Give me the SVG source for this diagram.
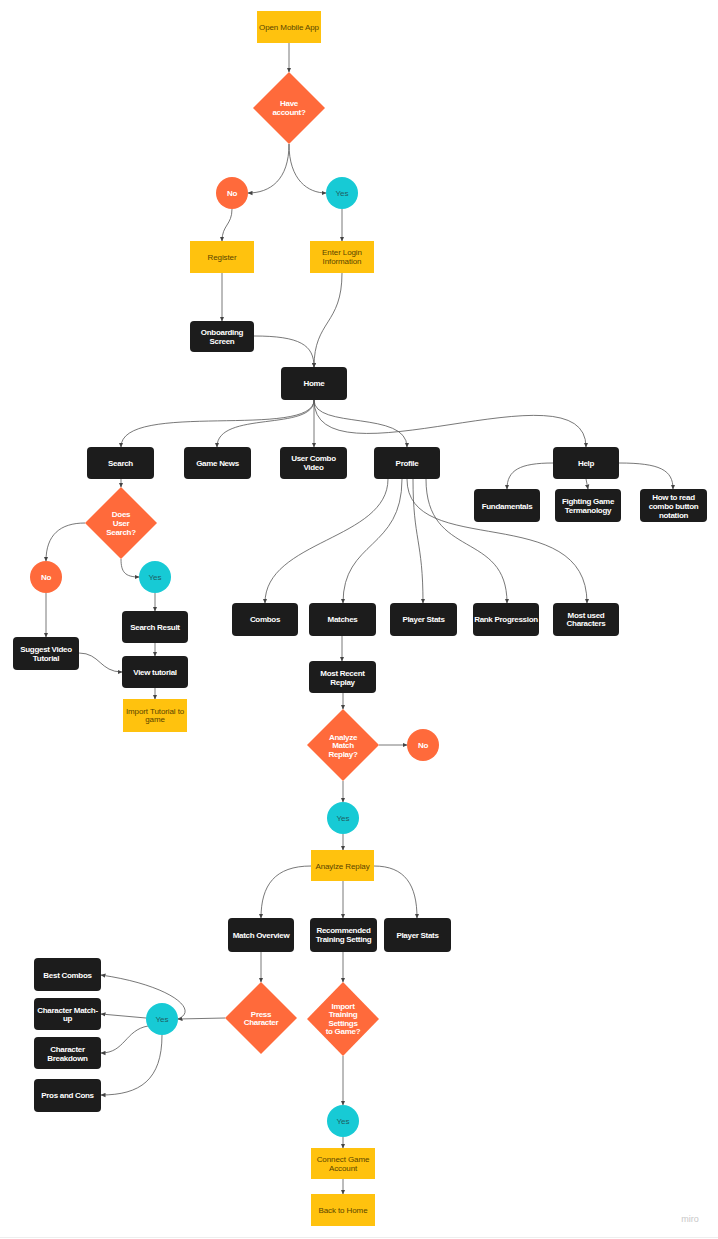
<svg xmlns="http://www.w3.org/2000/svg" width="718" height="1239" viewBox="0 0 718 1239">
<defs>
<marker id="arr" markerUnits="userSpaceOnUse" markerWidth="5" markerHeight="5" refX="4.5" refY="2.5" orient="auto">
<path d="M0,0.3 L5,2.5 L0,4.7 z" fill="#444"/>
</marker>
<style>
.y{fill:#FFC20E}
.o{fill:#FF6A3B}
.c{fill:#17CAD5}
.k{fill:#1C1C1C}
text{font-family:"Liberation Sans",Arial,sans-serif;font-size:8px;text-anchor:middle}
.tk{fill:#FFFFFF;font-weight:bold;letter-spacing:-0.3px}
.to{fill:#FFFFFF;font-weight:bold;letter-spacing:-0.3px}
.ty{fill:#5A4500;letter-spacing:-0.1px}
.tc{fill:#1F5E63;letter-spacing:-0.1px}
#connectors path{fill:none;stroke:#555;stroke-width:0.8;marker-end:url(#arr)}
</style>
</defs>
<rect x="0" y="0" width="718" height="1239" fill="#FFFFFF"/>
<line x1="0" y1="1237.5" x2="718" y2="1237.5" stroke="#EEEEEE" stroke-width="1"/>
<text x="690" y="1222" style="fill:#C8C8C8;font-size:9px">miro</text>

<g id="connectors">
<path d="M289 43 L289 72"/>
<path d="M289 144 C289 180 270 193 248 193"/>
<path d="M289 144 C289 180 308 193 326 193"/>
<path d="M232 209 C232 225 222 225 222 241"/>
<path d="M342 209 L342 241"/>
<path d="M222 273 L222 321"/>
<path d="M342 273 C342 325 314 320 314 367"/>
<path d="M254 336 C300 336 314 345 314 367"/>
<path d="M314 400 C314 440 121 400 121 447"/>
<path d="M314 400 C314 432 217 410 217 447"/>
<path d="M314 400 L314 447"/>
<path d="M314 400 C314 430 407 410 407 447"/>
<path d="M314 400 C314 490 586 360 586 447"/>
<path d="M553 463 C520 463 507 470 507 489"/>
<path d="M586 479 L588 489"/>
<path d="M619 463 C660 463 673 470 673 489"/>
<path d="M388 479 C388 540 265 540 265 603"/>
<path d="M402 479 C402 550 343 540 343 603"/>
<path d="M413 479 C413 540 423 540 423 603"/>
<path d="M426 479 C426 560 507 530 507 603"/>
<path d="M407 479 C407 560 587 500 587 603"/>
<path d="M121 479 L121 487"/>
<path d="M85 523 C60 523 46 535 46 561"/>
<path d="M121 559 C121 572 125 577 139 577"/>
<path d="M46 593 L46 637"/>
<path d="M155 593 L155 611"/>
<path d="M155 643 L155 656"/>
<path d="M79 653 C100 653 100 672 122 672"/>
<path d="M155 688 L155 699"/>
<path d="M342 636 L342 661"/>
<path d="M343 693 L343 709"/>
<path d="M379 745 L407 745"/>
<path d="M343 781 L343 802"/>
<path d="M343 834 L343 850"/>
<path d="M311 866 C275 866 261 885 261 918"/>
<path d="M343 881 L343 918"/>
<path d="M374 866 C405 866 417 885 417 918"/>
<path d="M261 952 L261 982"/>
<path d="M343 952 L343 982"/>
<path d="M225 1018 L178 1019"/>
<path d="M178 1019 C200 1010 170 985 101 975"/>
<path d="M146 1018 L101 1014"/>
<path d="M148 1026 C125 1030 125 1053 101 1053"/>
<path d="M162 1035 C162 1080 140 1095 101 1095"/>
<path d="M343 1056 L343 1105"/>
<path d="M343 1137 L343 1148"/>
<path d="M343 1179 L343 1194"/>
</g>

<g id="open-app"><rect class="y" x="257" y="11" width="64" height="32"/><text class="ty" x="289" y="30">Open Mobile App</text></g>
<g id="have-account"><polygon class="o" points="289,72 325,108 289,144 253,108"/><text class="to" x="289" y="106">Have</text><text class="to" x="289" y="115">account?</text></g>
<g id="no-1"><circle class="o" cx="232" cy="193" r="16"/><text class="to" x="232" y="196">No</text></g>
<g id="yes-1"><circle class="c" cx="342" cy="193" r="16"/><text class="tc" x="342" y="196">Yes</text></g>
<g id="register"><rect class="y" x="190" y="241" width="64" height="32"/><text class="ty" x="222" y="260">Register</text></g>
<g id="enter-login"><rect class="y" x="310" y="241" width="64" height="32"/><text class="ty" x="342" y="255">Enter Login</text><text class="ty" x="342" y="264">Information</text></g>
<g id="onboarding"><rect class="k" x="190" y="321" width="64" height="31" rx="4"/><text class="tk" x="222" y="335">Onboarding</text><text class="tk" x="222" y="344">Screen</text></g>
<g id="home"><rect class="k" x="281" y="367" width="66" height="33" rx="4"/><text class="tk" x="314" y="386">Home</text></g>

<g id="search"><rect class="k" x="87" y="447" width="67" height="32" rx="4"/><text class="tk" x="120.5" y="466">Search</text></g>
<g id="game-news"><rect class="k" x="184" y="447" width="67" height="32" rx="4"/><text class="tk" x="217.5" y="466">Game News</text></g>
<g id="user-combo-video"><rect class="k" x="280" y="447" width="67" height="32" rx="4"/><text class="tk" x="313.5" y="461">User Combo</text><text class="tk" x="313.5" y="470">Video</text></g>
<g id="profile"><rect class="k" x="374" y="447" width="66" height="32" rx="4"/><text class="tk" x="407" y="466">Profile</text></g>
<g id="help"><rect class="k" x="553" y="447" width="66" height="32" rx="4"/><text class="tk" x="586" y="466">Help</text></g>
<g id="fundamentals"><rect class="k" x="474" y="489" width="66" height="33" rx="4"/><text class="tk" x="507" y="508.5">Fundamentals</text></g>
<g id="fighting-game"><rect class="k" x="555" y="489" width="66" height="33" rx="4"/><text class="tk" x="588" y="504">Fighting Game</text><text class="tk" x="588" y="513">Termanology</text></g>
<g id="how-to-read"><rect class="k" x="640" y="489" width="67" height="33" rx="4"/><text class="tk" x="673.5" y="500">How to read</text><text class="tk" x="673.5" y="509">combo button</text><text class="tk" x="673.5" y="517.5">notation</text></g>

<g id="does-user-search"><polygon class="o" points="121,487 157,523 121,559 85,523"/><text class="to" x="121" y="517">Does</text><text class="to" x="121" y="526">User</text><text class="to" x="121" y="535">Search?</text></g>
<g id="no-2"><circle class="o" cx="46" cy="577" r="16"/><text class="to" x="46" y="580">No</text></g>
<g id="yes-2"><circle class="c" cx="155" cy="577" r="16"/><text class="tc" x="155" y="580">Yes</text></g>
<g id="search-result"><rect class="k" x="122" y="611" width="66" height="32" rx="4"/><text class="tk" x="155" y="630">Search Result</text></g>
<g id="suggest-video"><rect class="k" x="13" y="637" width="66" height="33" rx="4"/><text class="tk" x="46" y="652">Suggest Video</text><text class="tk" x="46" y="660.7">Tutorial</text></g>
<g id="view-tutorial"><rect class="k" x="122" y="656" width="66" height="32" rx="4"/><text class="tk" x="155" y="675">View tutorial</text></g>
<g id="import-tutorial"><rect class="y" x="123" y="699" width="64" height="33"/><text class="ty" x="155" y="714">Import Tutorial to</text><text class="ty" x="155" y="722.3">game</text></g>

<g id="combos"><rect class="k" x="232" y="603" width="66" height="33" rx="4"/><text class="tk" x="265" y="622">Combos</text></g>
<g id="matches"><rect class="k" x="309" y="603" width="67" height="33" rx="4"/><text class="tk" x="342.5" y="622">Matches</text></g>
<g id="player-stats-1"><rect class="k" x="390" y="603" width="67" height="33" rx="4"/><text class="tk" x="423.5" y="622">Player Stats</text></g>
<g id="rank-progression"><rect class="k" x="473" y="603" width="66" height="33" rx="4"/><text class="tk" x="506" y="622">Rank Progression</text></g>
<g id="most-used"><rect class="k" x="553" y="603" width="66" height="33" rx="4"/><text class="tk" x="586" y="618">Most used</text><text class="tk" x="586" y="626.3">Characters</text></g>

<g id="most-recent-replay"><rect class="k" x="309" y="661" width="67" height="32" rx="4"/><text class="tk" x="342.5" y="676.3">Most Recent</text><text class="tk" x="342.5" y="684.7">Replay</text></g>
<g id="analyze-match"><polygon class="o" points="343,709 379,745 343,781 307,745"/><text class="to" x="343" y="740.3">Analyze</text><text class="to" x="343" y="748.3">Match</text><text class="to" x="343" y="757">Replay?</text></g>
<g id="no-3"><circle class="o" cx="423" cy="745" r="16"/><text class="to" x="423" y="748">No</text></g>
<g id="yes-3"><circle class="c" cx="343" cy="818" r="16"/><text class="tc" x="343" y="821">Yes</text></g>
<g id="anaylze-replay"><rect class="y" x="311" y="850" width="63" height="31"/><text class="ty" x="342.5" y="869">Anaylze Replay</text></g>

<g id="match-overview"><rect class="k" x="228" y="918" width="66" height="34" rx="4"/><text class="tk" x="261" y="938">Match Overview</text></g>
<g id="recommended-training"><rect class="k" x="310" y="918" width="67" height="34" rx="4"/><text class="tk" x="343.5" y="933">Recommended</text><text class="tk" x="343.5" y="942">Training Setting</text></g>
<g id="player-stats-2"><rect class="k" x="384" y="918" width="67" height="34" rx="4"/><text class="tk" x="417.5" y="938">Player Stats</text></g>

<g id="press-character"><polygon class="o" points="261,982 297,1018 261,1054 225,1018"/><text class="to" x="261" y="1017">Press</text><text class="to" x="261" y="1025">Character</text></g>
<g id="import-training"><polygon class="o" points="343,982 379,1019 343,1056 307,1019"/><text class="to" x="343" y="1008.5">Import</text><text class="to" x="343" y="1017">Training</text><text class="to" x="343" y="1025.5">Settings</text><text class="to" x="343" y="1034">to Game?</text></g>
<g id="yes-4"><circle class="c" cx="162" cy="1019" r="16"/><text class="tc" x="162" y="1022">Yes</text></g>
<g id="best-combos"><rect class="k" x="34" y="958" width="67" height="33" rx="4"/><text class="tk" x="67.5" y="978">Best Combos</text></g>
<g id="character-matchup"><rect class="k" x="34" y="998" width="67" height="32" rx="4"/><text class="tk" x="67.5" y="1013">Character Match-</text><text class="tk" x="67.5" y="1021.3">up</text></g>
<g id="character-breakdown"><rect class="k" x="34" y="1037" width="67" height="32" rx="4"/><text class="tk" x="67.5" y="1052">Character</text><text class="tk" x="67.5" y="1060.7">Breakdown</text></g>
<g id="pros-cons"><rect class="k" x="34" y="1079" width="67" height="33" rx="4"/><text class="tk" x="67.5" y="1098">Pros and Cons</text></g>

<g id="yes-5"><circle class="c" cx="343" cy="1121" r="16"/><text class="tc" x="343" y="1124">Yes</text></g>
<g id="connect-game"><rect class="y" x="311" y="1148" width="64" height="31"/><text class="ty" x="343" y="1162">Connect Game</text><text class="ty" x="343" y="1170.7">Account</text></g>
<g id="back-home"><rect class="y" x="311" y="1194" width="64" height="32"/><text class="ty" x="343" y="1213">Back to Home</text></g>
</svg>
